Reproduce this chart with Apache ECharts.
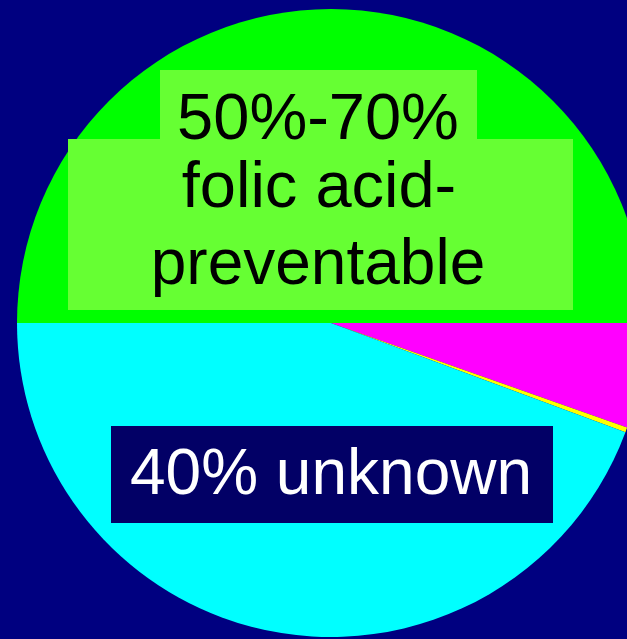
<!DOCTYPE html>
<html>
<head>
<meta charset="utf-8">
<script src="https://cdn.jsdelivr.net/npm/echarts@6/dist/echarts.min.js"></script>
<style>
html,body{margin:0;padding:0;background:#000080;}
#chart{width:627px;height:639px;}
</style>
</head>
<body>
<div id="chart"></div>
<script>
// Data
const categories = ['folic acid-preventable', 'other known causes', 'other', 'unknown'];
const values = [50, 5.4, 0.25, 44.35];
const preventableLines = ['50%-70%', 'folic acid-', 'preventable'];
const unknownLabel = '40% unknown';

const sliceColors = ['#00FF00', '#FF00FF', '#FFFF00', '#00FFFF'];
const FONT = '"Liberation Sans", Arial, Helvetica, sans-serif';

const chart = echarts.init(document.getElementById('chart'), null, {renderer: 'canvas'});
const Z = 100;
chart.setOption({
  backgroundColor: '#000080',
  animation: false,
  series: [{
    type: 'pie',
    center: [331, 323],
    radius: [0, 314],
    startAngle: 180,
    clockwise: true,
    label: {show: false},
    labelLine: {show: false},
    emphasis: {disabled: true},
    itemStyle: {borderWidth: 0},
    data: categories.map((c, i) => ({name: c, value: values[i], itemStyle: {color: sliceColors[i]}}))
  }],
  graphic: {
    elements: [
      {type: 'rect', z: Z, shape: {x: 160, y: 70, width: 317, height: 70}, style: {fill: '#66FF33'}, silent: true},
      {type: 'rect', z: Z, shape: {x: 68, y: 139, width: 505, height: 171}, style: {fill: '#66FF33'}, silent: true},
      {type: 'text', z: Z + 1, x: 318, y: 121, style: {text: preventableLines[0], font: '65px ' + FONT, fill: '#000', align: 'center', verticalAlign: 'middle'}, silent: true},
      {type: 'text', z: Z + 1, x: 319, y: 189, style: {text: preventableLines[1], font: '65px ' + FONT, fill: '#000', align: 'center', verticalAlign: 'middle'}, silent: true},
      {type: 'text', z: Z + 1, x: 318, y: 266, style: {text: preventableLines[2], font: '64px ' + FONT, fill: '#000', align: 'center', verticalAlign: 'middle'}, silent: true},
      {type: 'rect', z: Z, shape: {x: 111, y: 426, width: 442, height: 97}, style: {fill: '#020066'}, silent: true},
      {type: 'text', z: Z + 1, x: 331, y: 476, style: {text: unknownLabel, font: '64px ' + FONT, fill: '#fff', align: 'center', verticalAlign: 'middle'}, silent: true}
    ]
  }
});
</script>
</body>
</html>
